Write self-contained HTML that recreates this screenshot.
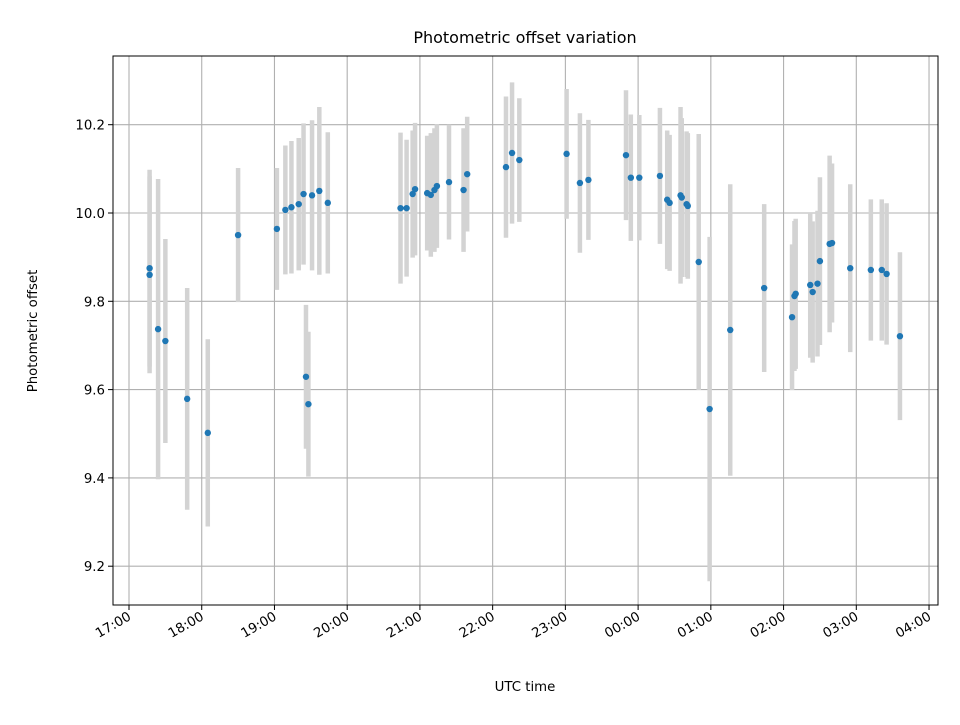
<!DOCTYPE html>
<html><head><meta charset="utf-8"><style>
body{margin:0;background:#fff}
text{font-family:"DejaVu Sans","Liberation Sans",sans-serif;fill:#000}
</style></head><body>
<svg id="chart" width="960" height="720">
<rect width="960" height="720" fill="#fff"/>
<g id="grid"></g><g id="bars"></g><g id="pts"></g><g id="axes"></g>
<text x="525" y="43" text-anchor="middle" font-size="16">Photometric offset variation</text>
<text x="525" y="691" text-anchor="middle" font-size="13.3">UTC time</text>
<text transform="translate(37,331) rotate(-90)" text-anchor="middle" font-size="13.3">Photometric offset</text>
</svg>
<script>
// minutes since 17:00
const times=[17,17,24,30,48,65,90,122,129,134,140,144,151,157,164,146,148,224,229,234,236,246,249,252,254,264,276,279,311,316,322,361,372,379,410,414,421,438,444,446,455,456,460,461,470,479,496,524,547,549,550,562,564,568,570,578,580,595,612,621,625,636];
const values=[9.875,9.86,9.737,9.71,9.579,9.502,9.95,9.964,10.007,10.013,10.02,10.043,10.04,10.05,10.023,9.629,9.567,10.011,10.011,10.043,10.054,10.045,10.041,10.052,10.061,10.07,10.052,10.088,10.104,10.136,10.12,10.134,10.068,10.075,10.131,10.08,10.08,10.084,10.03,10.023,10.04,10.035,10.02,10.016,9.889,9.556,9.735,9.83,9.764,9.812,9.817,9.837,9.821,9.84,9.891,9.93,9.932,9.875,9.871,9.871,9.862,9.721];
const errors=[0.223,0.223,0.34,0.231,0.251,0.212,0.152,0.138,0.146,0.15,0.15,0.16,0.17,0.19,0.16,0.163,0.164,0.171,0.155,0.144,0.15,0.13,0.14,0.14,0.14,0.13,0.14,0.13,0.16,0.16,0.14,0.147,0.158,0.136,0.147,0.143,0.142,0.154,0.157,0.154,0.2,0.18,0.165,0.165,0.29,0.39,0.33,0.19,0.165,0.17,0.17,0.165,0.16,0.165,0.19,0.2,0.18,0.19,0.16,0.16,0.16,0.19];
const xTickLabels=["17:00","18:00","19:00","20:00","21:00","22:00","23:00","00:00","01:00","02:00","03:00","04:00"];
const yTickLabels=["9.2","9.4","9.6","9.8","10.0","10.2"];
const L=113,R=938,T=56,B=605;
const xs=m=>129+m/60*72.73;
const ys=v=>213-(v-10)*441.5;
const NS="http://www.w3.org/2000/svg";
function mk(tag,parent,attrs){const e=document.createElementNS(NS,tag);for(const k in attrs)e.setAttribute(k,attrs[k]);document.getElementById(parent).appendChild(e);return e;}
xTickLabels.forEach((t,i)=>{
  const x=xs(i*60);
  const g=mk('line','grid',{x1:x,x2:x,y1:T,y2:B,stroke:'#b0b0b0','stroke-width':1.1});
  
  
  const tk=mk('line','axes',{x1:x,x2:x,y1:B,y2:B+5,stroke:'#000','stroke-width':1});
  
  
  const tx=mk('text','axes',{transform:`translate(${x+3},${B+14}) rotate(-30)`,'text-anchor':'end','font-size':13.3});
  tx.textContent=t;
  
  
});
yTickLabels.forEach(t=>{
  const y=ys(parseFloat(t));
  const g=mk('line','grid',{x1:L,x2:R,y1:y,y2:y,stroke:'#b0b0b0','stroke-width':1.1});
  
  
  const tk=mk('line','axes',{x1:L-5,x2:L,y1:y,y2:y,stroke:'#000','stroke-width':1});
  
  
  const tx=mk('text','axes',{x:L-8,y:y+5,'text-anchor':'end','font-size':13.3});
  tx.textContent=t;
  
  
});
const fr=mk('rect','axes',{x:L,y:T,width:R-L,height:B-T,fill:'none',stroke:'#000','stroke-width':1});


times.forEach((m,i)=>{
  const x=xs(m);
  const b=mk('line','bars',{x1:x,x2:x,y1:ys(values[i]+errors[i]),y2:ys(values[i]-errors[i]),stroke:'#d3d3d3','stroke-width':4.5});
  
  
  const c=mk('circle','pts',{cx:x,cy:ys(values[i]),r:3.2,fill:'#1f77b4'});
  
  
});
</script>
</body></html>
